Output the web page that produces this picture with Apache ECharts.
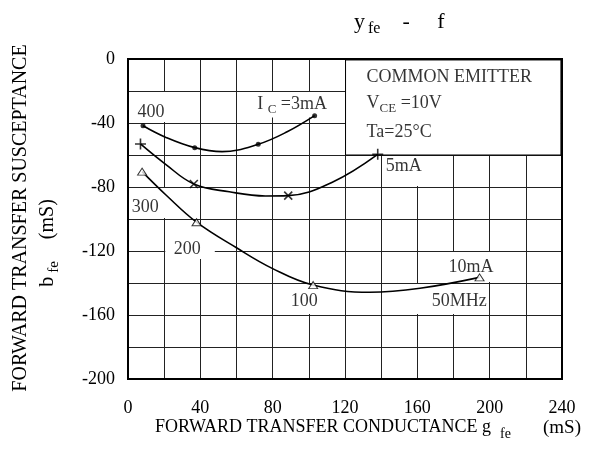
<!DOCTYPE html>
<html>
<head>
<meta charset="utf-8">
<script src="https://cdn.jsdelivr.net/npm/echarts@6/dist/echarts.min.js"></script>
<style>
  html, body { margin: 0; padding: 0; background: #fff; }
  #chart { width: 592px; height: 460px; }
</style>
</head>
<body>
<div id="chart"></div>
<script>
// Axis ticks (mS)
const xTicks = [0, 40, 80, 120, 160, 200, 240];
const yTicks = [-200, -160, -120, -80, -40, 0];

// Measured points, [g_fe, b_fe] in mS, frequencies 400/300/200/100/50 MHz
const ic3Marks = [[8.3, -41.7], [36.9, -55.4], [72, -53.3], [103.2, -35.4]];
const ic5Marks = [[6.9, -53.1], [36.4, -78.1], [88.6, -85.4], [138.1, -59.6]];
const ic10Marks = [[7.8, -70.4], [37.9, -102], [102.4, -141.3], [194.4, -136.5]];

// Hand-drawn fit curves traced through the measured points
const ic3Curve = [[8.3, -41.7], [21, -49], [36.9, -55.4], [52, -57.9], [72, -53.3], [88, -45.5], [103.2, -35.4]];
const ic5Curve = [[6.9, -53.1], [21, -66], [36.4, -78.1], [56, -83], [76, -85.6], [88.6, -85.4], [113, -77], [138.1, -59.6]];
const ic10Curve = [[7.8, -70.4], [21, -85], [37.9, -102], [60, -118], [80, -131], [102.4, -141.3], [133.8, -145.8], [161.5, -143.3], [194.4, -136.5]];

const FONT = "'Liberation Serif', 'Times New Roman', serif";
const INK = '#000';

function mainStyle(size, padLeft) {
  return { fontSize: size, fontFamily: FONT, color: INK, fill: INK, lineHeight: size,
           verticalAlign: 'top', padding: [0, 0, 0, padLeft || 0] };
}
function subStyle(size, drop, padLeft) {
  return { fontSize: size, fontFamily: FONT, color: INK, fill: INK, lineHeight: size,
           verticalAlign: 'top', padding: [drop, 0, 0, padLeft || 0] };
}
const richText = { m: mainStyle(18), s: subStyle(13, 8) };
const richYName = { m: mainStyle(20), s: subStyle(15, 9, 4), u: mainStyle(20, 12) };
const richXName = { m: mainStyle(18), s: subStyle(14, 9, 9), u: mainStyle(19, 32) };

// Text annotations placed in data coordinates
const notes = [
  { at: [13, -33.5], text: '{m|400}', align: 'center' },
  { at: [9.8, -93], text: '{m|300}', align: 'center' },
  { at: [33, -119.5], text: '{m|200}', align: 'center' },
  { at: [97.7, -151.5], text: '{m|100}', align: 'center' },
  { at: [183.5, -151.5], text: '{m|50MHz}', align: 'center' },
  { at: [190, -130.5], text: '{m|10mA}', align: 'center' },
  { at: [152.7, -67.5], text: '{m|5mA}', align: 'center' },
  { at: [71.7, -28.7], text: '{m|I }{s|C}{m| =3mA}', align: 'left' },
  { at: [132.2, -11.6], text: '{m|COMMON EMITTER}', align: 'left' },
  { at: [132.2, -28.1], text: '{m|V}{s|CE}{m| =10V}', align: 'left' },
  { at: [132.2, -45.9], text: '{m|Ta=25°C}', align: 'left' }
];

// White panels behind the annotations (hide the grid underneath)
const panels = [
  [[120.3, -0.6], [239.4, -60], true],
  [[1.2, -20.6], [26.5, -39.4]],
  [[70.5, -20.6], [112, -36.5]],
  [[140.6, -60.6], [176, -79.4]],
  [[1.2, -80.6], [26.5, -99.4]],
  [[20.6, -104], [48, -125]],
  [[86, -140.6], [112, -159.4]],
  [[158, -140.6], [199, -159.4]],
  [[177, -120.6], [203, -139.4]]
];

const PLUS = 'path://M5,0V10M0,5H10';
const CROSS = 'path://M0,0L10,10M10,0L0,10';

function curve(data) {
  return {
    type: 'line', data: data, smooth: 0.4, showSymbol: false, z: 3, silent: true,
    lineStyle: { color: INK, width: 1.6 }
  };
}

const chart = echarts.init(document.getElementById('chart'));
chart.setOption({
  animation: false,
  backgroundColor: '#fff',
  title: {
    text: '{m|y}{s|fe}{m|    -     f}',
    left: 349, top: 6,
    textStyle: { fontWeight: 'normal', rich: { m: mainStyle(22), s: subStyle(16, 10, 3) } }
  },
  grid: {
    left: 128, top: 59, width: 434, height: 320,
    show: true, borderColor: INK, borderWidth: 2, z: 10
  },
  xAxis: {
    type: 'value', min: xTicks[0], max: xTicks[xTicks.length - 1], interval: xTicks[1] - xTicks[0],
    axisLine: { show: false }, axisTick: { show: false },
    axisLabel: { fontSize: 18, fontFamily: FONT, color: INK, margin: 20 },
    splitLine: { show: true, lineStyle: { color: '#222', width: 1 } },
    minorTick: { show: false, splitNumber: 2 },
    minorSplitLine: { show: true, lineStyle: { color: '#222', width: 1 } }
  },
  yAxis: {
    type: 'value', min: yTicks[0], max: yTicks[yTicks.length - 1], interval: yTicks[1] - yTicks[0],
    axisLine: { show: false }, axisTick: { show: false },
    axisLabel: { fontSize: 18, fontFamily: FONT, color: INK, margin: 13 },
    splitLine: { show: true, lineStyle: { color: '#222', width: 1 } },
    minorTick: { show: false, splitNumber: 2 },
    minorSplitLine: { show: true, lineStyle: { color: '#222', width: 1 } }
  },
  graphic: [
    {
      type: 'text', x: 21, y: 218, rotation: Math.PI / 2,
      style: { text: 'FORWARD TRANSFER SUSCEPTANCE', fontSize: 20, fontFamily: FONT, fill: INK, align: 'center', verticalAlign: 'middle' }
    },
    {
      type: 'text', x: 48, y: 243, rotation: Math.PI / 2,
      style: { text: '{m|b}{s|fe}{u|  (mS)}', fill: INK, align: 'center', verticalAlign: 'middle', rich: richYName }
    },
    {
      type: 'text', x: 155, y: 428,
      style: { text: '{m|FORWARD TRANSFER CONDUCTANCE g}{s|fe}{u|(mS)}', fill: INK, align: 'left', verticalAlign: 'middle', rich: richXName }
    }
  ],
  series: [
    {
      type: 'scatter', z: 1, silent: true, symbolSize: 1,
      itemStyle: { color: 'rgba(0,0,0,0)' },
      data: notes.map(n => ({
        value: n.at,
        label: {
          show: true, formatter: n.text, position: [0, 0],
          align: n.align, verticalAlign: 'middle', rich: richText
        }
      })),
      markArea: {
        silent: true,
        data: panels.map(p => [
          { coord: p[0], itemStyle: { color: '#fff', borderColor: p[2] ? INK : 'transparent', borderWidth: p[2] ? 1 : 0 } },
          { coord: p[1] }
        ])
      }
    },
    curve(ic3Curve),
    curve(ic5Curve),
    curve(ic10Curve),
    {
      type: 'scatter', data: ic3Marks, z: 4, silent: true,
      symbol: 'circle', symbolSize: 5, itemStyle: { color: INK }
    },
    {
      type: 'scatter', data: ic5Marks, z: 4, silent: true,
      symbol: (v, p) => (p.dataIndex === 0 || p.dataIndex === ic5Marks.length - 1) ? PLUS : CROSS,
      symbolSize: (v, p) => (p.dataIndex === 0 || p.dataIndex === ic5Marks.length - 1) ? 11 : 8,
      itemStyle: { color: 'none', borderColor: INK, borderWidth: 1.6 }
    },
    {
      type: 'scatter', data: ic10Marks, z: 4, silent: true,
      symbol: 'triangle', symbolSize: [9, 7],
      itemStyle: { color: '#fff', borderColor: INK, borderWidth: 1 }
    }
  ]
});
</script>
</body>
</html>
